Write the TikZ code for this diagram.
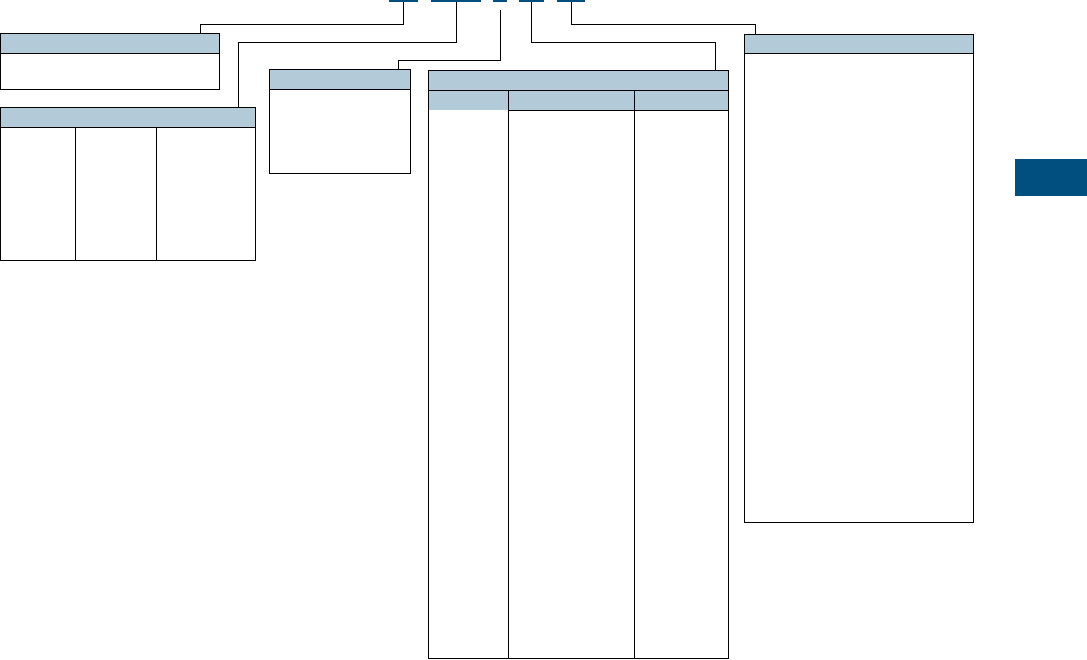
\documentclass[tikz,border=0pt]{standalone}
\usetikzlibrary{positioning}
\definecolor{hdblue}{RGB}{179,203,216}
\definecolor{tabblue}{RGB}{0,79,126}
\tikzset{
  hdr/.style={draw, fill=hdblue, anchor=north west, inner sep=0pt, outer sep=0pt, line width=1pt},
  body/.style={draw, anchor=north west, inner sep=0pt, outer sep=0pt, line width=1pt},
  bar/.style={fill=tabblue, anchor=north west, inner sep=0pt, outer sep=0pt, minimum height=2pt},
  lead/.style={line width=1pt}
}
\begin{document}
\begin{tikzpicture}[x=1pt, y=-1pt]
  \useasboundingbox (0,0) rectangle (1087,659);
  % tabs on top
  \node[bar, minimum width=29pt] (bar1) at (389,0) {};
  \node[bar, minimum width=50pt] (bar2) at (431,0) {};
  \node[bar, minimum width=14pt] (bar3) at (493,0) {};
  \node[bar, minimum width=25pt] (bar4) at (519,0) {};
  \node[bar, minimum width=28pt] (bar5) at (557,0) {};
  % box 1
  \node[hdr, minimum width=219pt, minimum height=20pt] (hd1) at (0,33.3) {};
  \node[body, minimum width=219pt, minimum height=35.7pt] (bd1) at (hd1.south west) {};
  % box 2
  \node[hdr, minimum width=255pt, minimum height=20pt] (hd2) at (0,107) {};
  \node[body, minimum width=255pt, minimum height=133pt] (bd2) at (hd2.south west) {};
  \draw[lead] (bd2.north west -| 75,0) -- (bd2.south west -| 75,0);
  \draw[lead] (bd2.north west -| 156,0) -- (bd2.south west -| 156,0);
  % box 3
  \node[hdr, minimum width=141pt, minimum height=20pt] (hd3) at (269.3,69.3) {};
  \node[body, minimum width=141pt, minimum height=83.7pt] (bd3) at (hd3.south west) {};
  % box 4
  \node[hdr, minimum width=300pt, minimum height=20pt] (hd4) at (428.3,70.3) {};
  \node[fill=hdblue, anchor=north west, inner sep=0pt, outer sep=0pt,
        minimum width=300pt, minimum height=19.7pt] (sub4) at (hd4.south west) {};
  \node[body, minimum width=300pt, minimum height=568pt] (bd4) at (hd4.south west) {};
  \draw[lead] (bd4.north west -| 508.3,0) -- (bd4.south west -| 508.3,0);
  \draw[lead] (bd4.north west -| 634.5,0) -- (bd4.south west -| 634.5,0);
  \draw[lead] (sub4.south west -| 508.3,0) -- (sub4.south east);
  % box 5
  \node[hdr, minimum width=229pt, minimum height=19pt] (hd5) at (744.3,34.3) {};
  \node[body, minimum width=229pt, minimum height=469pt] (bd5) at (hd5.south west) {};
  % side tab
  \node[fill=tabblue, anchor=north west, inner sep=0pt, outer sep=0pt,
        minimum width=72pt, minimum height=36.7pt] (side) at (1015,159) {};
  % leaders
  \coordinate (k1) at (200,24.3);
  \coordinate (k2) at (238.3,42.3);
  \coordinate (k3) at (398.3,60.3);
  \coordinate (k4) at (715.7,42.3);
  \coordinate (k5) at (755.3,24.3);
  \draw[lead] (bar1.south) |- (k1) -- (k1 |- hd1.north);
  \draw[lead] (bar2.south) |- (k2) -- (k2 |- hd2.north);
  \draw[lead] ([yshift=-8pt]bar3.south) |- (k3) -- (k3 |- hd3.north);
  \draw[lead] (bar4.south) |- (k4) -- (k4 |- hd4.north);
  \draw[lead] (bar5.south) |- (k5) -- (k5 |- hd5.north);
\end{tikzpicture}
\end{document}
